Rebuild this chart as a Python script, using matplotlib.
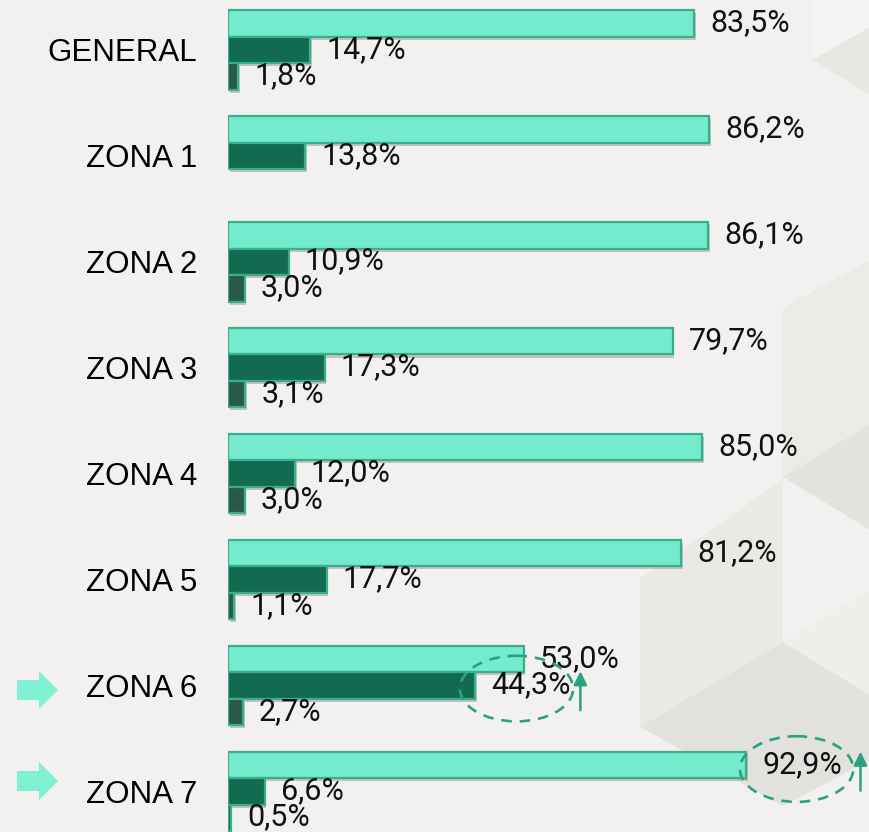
import numpy as np
import matplotlib
matplotlib.use("Agg")
import matplotlib.pyplot as plt
from matplotlib.patches import Polygon, Ellipse
import matplotlib.patheffects as pe

# ---- data ----
categories = ["GENERAL", "ZONA 1", "ZONA 2", "ZONA 3", "ZONA 4", "ZONA 5", "ZONA 6", "ZONA 7"]
serie_a = [83.5, 86.2, 86.1, 79.7, 85.0, 81.2, 53.0, 92.9]
serie_b = [14.7, 13.8, 10.9, 17.3, 12.0, 17.7, 44.3, 6.6]
serie_c = [1.8, None, 3.0, 3.1, 3.0, 1.1, 2.7, 0.5]

W, H = 870, 832
BG = "#f2f1ef"
C_A, C_B, C_C = "#74ebcc", "#126a50", "#2a584b"
EDGE = "#3aae8c"
ACCENT = "#2aa282"

fig = plt.figure(figsize=(W / 100, H / 100), dpi=100)
fig.patch.set_facecolor(BG)

def px(pts):
    return [(x / W, 1 - y / H) for x, y in pts]

# background decorative isometric shapes
bg_shapes = [
    ([(813, 0), (870, 0), (870, 27), (813, 60)], "#f4f4f2"),
    ([(813, 60), (870, 27), (870, 95)], "#e7e6e3"),
    ([(783, 308), (870, 260), (870, 424), (783, 477)], "#ebeae7"),
    ([(783, 477), (870, 424), (870, 530)], "#e3e2df"),
    ([(640, 578), (783, 480), (783, 642), (640, 727)], "#eae9e6"),
    ([(640, 727), (783, 642), (870, 695), (870, 760), (783, 806)], "#e2e1de"),
    ([(783, 642), (870, 590), (870, 695)], "#efeeeb"),
]
for pts, col in bg_shapes:
    fig.add_artist(Polygon(px(pts), closed=True, facecolor=col, edgecolor="none",
                           transform=fig.transFigure, zorder=0))

x0_px = 228
scale = 5.58  # px per percent
ax = fig.add_axes([x0_px / W, 0, (W - x0_px) / W, 1])
ax.set_facecolor("none")
ax.set_xlim(0, (W - x0_px) / scale)
ax.set_ylim((H - 50) / 105.9, -50 / 105.9)
for s in ax.spines.values():
    s.set_visible(False)
ax.set_xticks([])

n = len(categories)
y = np.arange(n)
h = 0.25
shadow = [pe.SimplePatchShadow(offset=(1.2, -2.2), shadow_rgbFace="#8a8a8a", alpha=0.45), pe.Normal()]

def fmt(v):
    return f"{v:.1f}".replace(".", ",") + "%"

for vals, col, off in [(serie_a, C_A, -h), (serie_b, C_B, 0), (serie_c, C_C, h)]:
    for i, v in enumerate(vals):
        if v is None:
            continue
        b = ax.barh(y[i] + off, v, height=h, color=col, edgecolor=EDGE, linewidth=1.6, zorder=3)
        for p in b.patches:
            p.set_path_effects(shadow)
        ax.annotate(fmt(v), (v, y[i] + off), xytext=(11.5, 0.5), textcoords="offset points",
                    ha="left", va="center", fontsize=22, family="Roboto", color="#111111", zorder=5)

ax.set_yticks(y)
ax.set_yticklabels(categories, fontsize=22.5, family="Liberation Sans", color="#000000")
ax.tick_params(axis="y", length=0, pad=22)

# highlight arrows on the left (figure pixels)
def left_arrow(cy):
    pts = [(17, cy - 10), (39, cy - 10), (39, cy - 19), (58, cy), (39, cy + 19), (39, cy + 10), (17, cy + 10)]
    fig.add_artist(Polygon(px(pts), closed=True, facecolor="#80f0d2", edgecolor="none",
                           transform=fig.transFigure, zorder=4))

left_arrow(690)
left_arrow(781)

# dashed ellipses + up arrows
def mark(val, yy, dx, dy):
    cx = val + dx
    e = Ellipse((cx, yy + dy), width=20.3, height=0.62, fill=False, edgecolor=ACCENT,
                linestyle=(0, (4, 3)), linewidth=1.9, zorder=6)
    ax.add_patch(e)
    ax_x = cx + 20.3 / 2 + 1.3
    ax.annotate("", xy=(ax_x, yy + dy - 0.19), xytext=(ax_x, yy + dy + 0.23),
                arrowprops=dict(arrowstyle="-|>,head_length=0.8,head_width=0.4", color=ACCENT, lw=1.8),
                zorder=6)

mark(serie_b[6], y[6], 7.4, 0.03)
mark(serie_a[7], y[7] - h, 9.0, 0.04)

fig.savefig("out.png", dpi=100, facecolor=BG)
